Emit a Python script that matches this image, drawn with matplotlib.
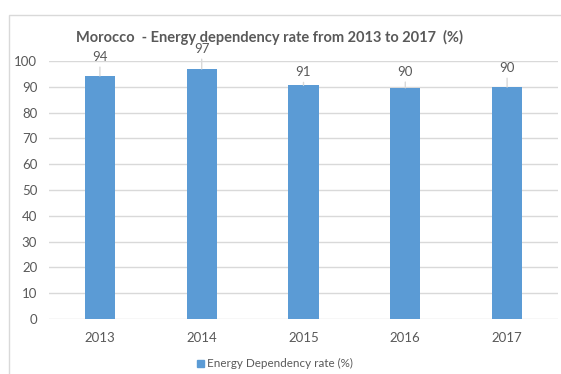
import matplotlib
matplotlib.use("Agg")
import matplotlib.pyplot as plt
from matplotlib.patches import Rectangle

# Data
years = ["2013", "2014", "2015", "2016", "2017"]
dependency_rate = [94.2, 96.9, 90.6, 89.6, 89.9]
y_ticks = [0, 10, 20, 30, 40, 50, 60, 70, 80, 90, 100]

# Style
BAR = "#5B9BD5"
TEXT = "#595959"
GRID = "#D9D9D9"
FONT = ["Lato", "DejaVu Sans"]
# how far (in points) each data label's centre sits above its bar
label_lift = [13.7, 14.4, 9.4, 11.5, 13.7]

plt.rcParams["font.family"] = FONT

W, H = 561, 374
fig = plt.figure(figsize=(W / 100, H / 100), dpi=100)

# outer chart frame
fig.add_artist(Rectangle((9 / W, -0.05), 1.2, 1 - 15 / H + 0.05,
                         transform=fig.transFigure, fill=False,
                         edgecolor=GRID, linewidth=1.0))

ax = fig.add_axes([49 / W, 1 - 319 / H, (558 - 49) / W, (319 - 61) / H])
x = list(range(len(years)))
ax.bar(x, dependency_rate, width=0.296, color=BAR, zorder=3)
ax.set_xlim(-0.5, len(years) - 0.5)
ax.set_ylim(0, 100)
ax.set_yticks(y_ticks)
ax.set_xticks(x)
ax.set_xticklabels(years)
ax.tick_params(axis="both", length=0, colors=TEXT, labelsize=9.5)
ax.tick_params(axis="y", pad=8.5)
ax.tick_params(axis="x", pad=9)
ax.grid(axis="y", color=GRID, linewidth=1.0, zorder=0)
for s in ax.spines.values():
    s.set_visible(False)

# data labels with leader lines
for xi, v, lift in zip(x, dependency_rate, label_lift):
    ax.annotate(f"{v:.0f}", xy=(xi, v), xytext=(0, lift), textcoords="offset points",
                ha="center", va="center", color=TEXT, fontsize=9.5,
                arrowprops=dict(arrowstyle="-", color=GRID, linewidth=1.0,
                                shrinkA=1, shrinkB=0))

fig.text(270 / W, 1 - 37 / H, "Morocco  - Energy dependency rate from 2013 to 2017  (%)",
         ha="center", va="center", fontsize=10.5, fontweight="bold", color=TEXT)

# legend
fig.add_artist(Rectangle((197 / W, 1 - 367 / H), 7 / W, 7 / H,
                         transform=fig.transFigure, color=BAR))
fig.text(207 / W, 1 - 363 / H, "Energy Dependency rate (%)", ha="left", va="center",
         fontsize=8.4, color=TEXT)

fig.savefig("out.png", dpi=100)
